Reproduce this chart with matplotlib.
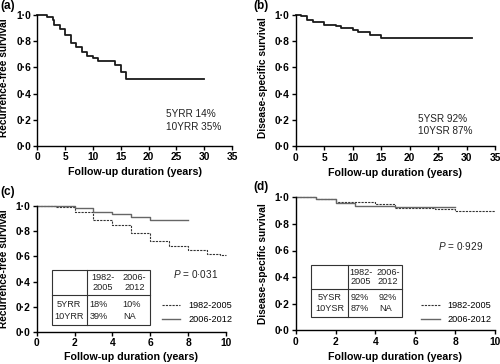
"""Kaplan-Meier panels: recurrence-free and disease-specific survival."""

import matplotlib
matplotlib.use("Agg")
import matplotlib.pyplot as plt
from matplotlib.lines import Line2D
from matplotlib.patches import Rectangle
from matplotlib.ticker import FuncFormatter, MultipleLocator

plt.rcParams["font.family"] = ["Liberation Sans", "DejaVu Sans"]
plt.rcParams["mathtext.fontset"] = "custom"
plt.rcParams["mathtext.it"] = "Liberation Sans:italic"
plt.rcParams["mathtext.rm"] = "Liberation Sans"

# (a) recurrence-free survival, whole cohort
A_TIME = [0, 1.8, 2.75, 3, 4, 5, 6, 7, 8, 9, 10, 11, 14, 15, 16, 30]
A_SURV = [1.0, 0.985, 0.964, 0.926, 0.896, 0.85, 0.79, 0.753, 0.715, 0.69, 0.672, 0.651, 0.62, 0.562, 0.514, 0.514]
A_NOTES = ["5YRR 14%", "10YRR 35%"]

# (b) disease-specific survival, whole cohort
B_TIME = [0, 1, 2, 3, 5, 7, 8, 10, 11, 13, 15, 31]
B_SURV = [1.0, 0.987, 0.96, 0.945, 0.92, 0.912, 0.9, 0.885, 0.872, 0.845, 0.823, 0.823]
B_NOTES = ["5YSR 92%", "10YSR 87%"]

# (c) recurrence-free survival by period
C_OLD_TIME = [0, 1, 2, 3, 4, 5, 6, 7, 8, 9, 9.7, 10]
C_OLD_SURV = [1.0, 0.99, 0.952, 0.886, 0.847, 0.783, 0.72, 0.68, 0.648, 0.622, 0.608, 0.608]
C_NEW_TIME = [0, 2, 3, 4, 5, 6, 8]
C_NEW_SURV = [1.0, 0.982, 0.95, 0.937, 0.916, 0.889, 0.889]
C_P = "$P$ = 0·031"
C_ROWS = ["5YRR", "10YRR"]
C_CELLS = [["18%", "10%"], ["39%", "NA"]]

# (d) disease-specific survival by period
D_OLD_TIME = [0, 1, 2, 4, 5, 7, 8, 10]
D_OLD_SURV = [1.0, 0.988, 0.962, 0.952, 0.92, 0.913, 0.895, 0.895]
D_NEW_TIME = [0, 1, 2, 3, 5, 8]
D_NEW_SURV = [1.0, 0.985, 0.957, 0.932, 0.927, 0.927]
D_P = "$P$ = 0·929"
D_ROWS = ["5YSR", "10YSR"]
D_CELLS = [["92%", "92%"], ["87%", "NA"]]

PERIODS = ["1982-2005", "2006-2012"]
PERIOD_HEAD = ["1982-\n2005", "2006-\n2012"]

TICK_FS = 7.4
XLABEL_FS = 7.7
YLABEL_FS = 7.3
NOTE_FS = 7.2
SMALL_FS = 6.6


def _dot(v, pos):
    return f"{v:.1f}".replace(".", "·")


def style_axes(ax, xmax, xstep, ylabel, label_x, label_y):
    ax.set_xlim(0, xmax)
    ax.set_ylim(0, 1)
    ax.xaxis.set_major_locator(MultipleLocator(xstep))
    ax.yaxis.set_major_locator(MultipleLocator(0.2))
    ax.yaxis.set_major_formatter(FuncFormatter(_dot))
    for side in ("top", "right"):
        ax.spines[side].set_visible(False)
    for side in ("left", "bottom"):
        ax.spines[side].set_linewidth(1.0)
    ax.tick_params(direction="out", length=3, width=1.0, pad=1.5, labelsize=TICK_FS)
    for lab in ax.get_xticklabels() + ax.get_yticklabels():
        lab.set_fontweight("bold")
    ax.set_xlabel("Follow-up duration (years)", fontsize=XLABEL_FS, fontweight="bold")
    ax.set_ylabel(ylabel, fontsize=YLABEL_FS, fontweight="bold")
    ax.yaxis.set_label_coords(label_x, label_y)
    ax.xaxis.set_label_coords(0.5, -0.2)
    ax.xaxis.label.set_verticalalignment("center")
    ax.yaxis.label.set_verticalalignment("center")


def draw_table(ax, x0, x1, y0, y1, xdiv, ydiv, rows, cells):
    ax.add_patch(Rectangle((x0, y0), x1 - x0, y1 - y0, fill=False, lw=0.8,
                           edgecolor="#333333", clip_on=False))
    ax.plot([xdiv, xdiv], [y0, y1], color="#333333", lw=0.8, clip_on=False)
    ax.plot([x0, x1], [ydiv, ydiv], color="#333333", lw=0.8, clip_on=False)
    col_w = (x1 - xdiv) / 2
    for j, head in enumerate(PERIOD_HEAD):
        ax.text(xdiv + col_w * (j + 0.5), (ydiv + y1) / 2, head, fontsize=SMALL_FS,
                ha="center", va="center", linespacing=1.1, color="#222222")
    row_h = (ydiv - y0) / (len(rows) + 0.6)
    for i, row in enumerate(rows):
        yy = ydiv - row_h * (i + 0.8)
        ax.text((x0 + xdiv) / 2, yy, row, fontsize=SMALL_FS, ha="center", va="center",
                color="#222222")
        for j, val in enumerate(cells[i]):
            ax.text(xdiv + 0.15 + col_w * j * 1.05, yy, val, fontsize=SMALL_FS,
                    ha="left", va="center", color="#222222")


def draw_legend(ax, anchor):
    handles = [
        Line2D([], [], color="#333333", lw=0.8, linestyle=(0, (2, 1))),
        Line2D([], [], color="#666666", lw=1.0),
    ]
    ax.legend(handles, PERIODS, loc="center left", bbox_to_anchor=anchor, frameon=False,
              fontsize=SMALL_FS, handlelength=2.0, handletextpad=0.9, labelspacing=0.6,
              borderpad=0, borderaxespad=0)


def main() -> None:
    fig = plt.figure(figsize=(5.0, 3.64), dpi=100)

    # Top row: whole cohort over 35 years.
    ax_a = fig.add_axes([37.3 / 500, 1 - 146 / 364, 194.7 / 500, 131 / 364])
    ax_a.step(A_TIME, A_SURV, where="post", color="#1a1a1a", lw=1.3, clip_on=False)
    style_axes(ax_a, 35, 5, "Recurrence-free survival", -0.171, 0.52)
    ax_a.text(23.2, 0.247, A_NOTES[0], fontsize=NOTE_FS, va="center", color="#222222")
    ax_a.text(23.2, 0.142, A_NOTES[1], fontsize=NOTE_FS, va="center", color="#222222")

    ax_b = fig.add_axes([295.7 / 500, 1 - 146.3 / 364, 199.3 / 500, 131.6 / 364])
    ax_b.step(B_TIME, B_SURV, where="post", color="#1a1a1a", lw=1.3, clip_on=False)
    style_axes(ax_b, 35, 5, "Disease-specific survival", -0.164, 0.52)
    ax_b.text(21.5, 0.206, B_NOTES[0], fontsize=NOTE_FS, va="center", color="#222222")
    ax_b.text(21.5, 0.117, B_NOTES[1], fontsize=NOTE_FS, va="center", color="#222222")

    # Bottom row: split by treatment period over 10 years.
    ax_c = fig.add_axes([36.7 / 500, 1 - 332 / 364, 189.3 / 500, 126 / 364])
    ax_c.step(C_OLD_TIME, C_OLD_SURV, where="post", color="#333333", lw=0.8,
              linestyle=(0, (2, 1)), clip_on=False)
    ax_c.step(C_NEW_TIME, C_NEW_SURV, where="post", color="#666666", lw=1.0, clip_on=False)
    style_axes(ax_c, 10, 2, "Recurrence-free survival", -0.173, 0.5)
    draw_table(ax_c, 0.79, 5.99, 0.053, 0.49, 2.64, 0.291, C_ROWS, C_CELLS)
    ax_c.text(7.22, 0.458, C_P, fontsize=NOTE_FS, va="center", color="#222222")
    draw_legend(ax_c, (0.66, 0.155))

    ax_d = fig.add_axes([295.7 / 500, 1 - 330.3 / 364, 199.3 / 500, 133 / 364])
    ax_d.step(D_OLD_TIME, D_OLD_SURV, where="post", color="#333333", lw=0.8,
              linestyle=(0, (2, 1)), clip_on=False)
    ax_d.step(D_NEW_TIME, D_NEW_SURV, where="post", color="#666666", lw=1.0, clip_on=False)
    style_axes(ax_d, 10, 2, "Disease-specific survival", -0.164, 0.5)
    draw_table(ax_d, 0.77, 5.32, 0.10, 0.493, 2.61, 0.308, D_ROWS, D_CELLS)
    ax_d.text(7.16, 0.632, D_P, fontsize=NOTE_FS, va="center", color="#222222")
    draw_legend(ax_d, (0.63, 0.134))

    for letter, x, y in [("(a)", 0, 1.0), ("(b)", 253 / 500, 1.0),
                         ("(c)", 0, 1 - 186 / 364), ("(d)", 253 / 500, 1 - 181 / 364)]:
        fig.text(x, y, letter, fontsize=8.5, fontweight="bold", ha="left", va="top")

    fig.savefig("out.png", dpi=100)
    plt.close(fig)


if __name__ == "__main__":
    main()
